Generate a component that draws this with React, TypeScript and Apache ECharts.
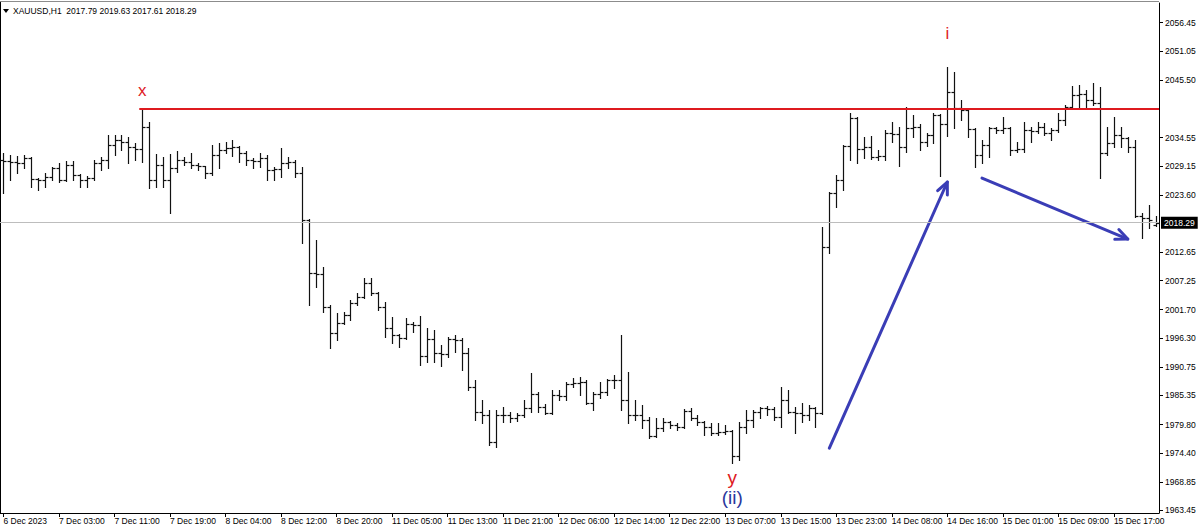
import React, { useEffect, useRef } from "react";
import * as echarts from "echarts";

const symbolName = "XAUUSD,H1";

const tickLabels = [
  "6 Dec 2023", "7 Dec 03:00", "7 Dec 11:00", "7 Dec 19:00", "8 Dec 04:00", "8 Dec 12:00",
  "8 Dec 20:00", "11 Dec 05:00", "11 Dec 13:00", "11 Dec 21:00", "12 Dec 06:00", "12 Dec 14:00",
  "12 Dec 22:00", "13 Dec 07:00", "13 Dec 15:00", "13 Dec 23:00", "14 Dec 08:00", "14 Dec 16:00",
  "15 Dec 01:00", "15 Dec 09:00", "15 Dec 17:00",
];
const barsPerTick = 8;

const priceTicks = [
  1963.45, 1968.85, 1974.4, 1979.8, 1985.35, 1990.75, 1996.3, 2001.7, 2007.25, 2012.65,
  2023.6, 2029.15, 2034.55, 2045.5, 2051.05, 2056.45,
];

const opens = [
  2030.25, 2030.06, 2029.87, 2029.68, 2030.63, 2026.63, 2026.44, 2027.01, 2028.73, 2026.44,
  2029.30, 2027.39, 2026.44, 2026.82, 2029.68, 2030.25, 2033.11, 2034.07, 2033.69, 2032.73,
  2032.35, 2036.55, 2026.44, 2029.30, 2026.44, 2028.73, 2030.25, 2029.87, 2029.30, 2029.11,
  2027.77, 2031.21, 2032.16, 2032.54, 2032.73, 2031.59, 2030.25, 2030.06, 2030.63, 2028.35,
  2028.54, 2029.68, 2029.87, 2027.77, 2018.80, 2008.69, 2008.50, 2002.20, 1997.24, 1999.15,
  2000.67, 2002.97, 2004.12, 2006.78, 2004.88, 2002.20, 1998.20, 1996.87, 1996.29, 1998.96,
  1998.77, 1992.86, 1996.10, 1993.43, 1993.24, 1996.10, 1995.91, 1993.43, 1986.94, 1982.17,
  1981.60, 1976.45, 1981.60, 1981.60, 1981.03, 1981.60, 1982.93, 1985.60, 1983.12, 1981.98,
  1985.41, 1985.22, 1987.51, 1987.70, 1987.89, 1983.89, 1985.60, 1985.99, 1988.28, 1988.28,
  1984.46, 1981.60, 1981.60, 1980.64, 1977.59, 1979.12, 1980.26, 1979.69, 1979.31, 1982.36,
  1981.03, 1980.26, 1979.31, 1978.17, 1978.36, 1978.55, 1973.79, 1979.31, 1980.64, 1982.17,
  1982.93, 1982.74, 1981.22, 1984.46, 1982.17, 1981.98, 1981.60, 1982.93, 1981.98, 2013.65,
  2023.90, 2026.44, 2032.92, 2038.27, 2032.35, 2032.73, 2030.82, 2031.02, 2035.40, 2035.21,
  2032.73, 2036.36, 2036.55, 2033.69, 2035.02, 2038.84, 2037.12, 2043.23, 2040.17, 2039.79,
  2036.17, 2031.21, 2033.11, 2036.36, 2035.98, 2036.36, 2032.16, 2032.35, 2035.98, 2035.79,
  2036.55, 2035.40, 2035.98, 2037.88, 2040.36, 2042.65, 2042.84, 2041.70, 2041.13, 2031.59,
  2033.50, 2035.02, 2034.45, 2032.73, 2019.56, 2019.18, 2017.79,
];
const highs = [
  2031.59, 2031.21, 2031.02, 2031.21, 2030.80, 2026.82, 2027.77, 2028.92, 2029.68, 2030.06,
  2030.06, 2027.50, 2027.20, 2030.25, 2030.82, 2035.02, 2035.02, 2035.02, 2034.64, 2033.50,
  2039.90, 2037.50, 2031.40, 2030.82, 2031.40, 2031.97, 2030.82, 2031.59, 2029.68, 2029.20,
  2033.11, 2033.50, 2033.69, 2034.07, 2032.92, 2031.97, 2030.63, 2031.59, 2031.21, 2028.92,
  2032.54, 2030.82, 2030.25, 2028.92, 2019.00, 2014.99, 2009.84, 2002.59, 2001.06, 2001.25,
  2003.54, 2004.88, 2007.74, 2007.74, 2005.07, 2003.16, 2000.29, 1997.06, 2000.10, 1999.34,
  2000.48, 1998.20, 1997.82, 1994.96, 1996.48, 1996.87, 1996.29, 1994.38, 1988.28, 1984.46,
  1982.55, 1982.55, 1983.12, 1982.17, 1981.98, 1984.46, 1989.61, 1985.99, 1983.70, 1986.37,
  1986.37, 1987.89, 1988.66, 1988.85, 1988.28, 1985.99, 1987.89, 1988.47, 1989.23, 1996.87,
  1989.80, 1984.46, 1983.51, 1981.22, 1981.03, 1981.03, 1980.40, 1980.07, 1982.74, 1982.93,
  1981.60, 1980.40, 1980.07, 1980.07, 1979.69, 1978.74, 1980.26, 1982.55, 1982.55, 1983.12,
  1983.31, 1983.12, 1986.94, 1986.37, 1983.12, 1983.89, 1983.51, 1983.10, 2017.47, 2024.15,
  2027.39, 2033.11, 2039.22, 2038.46, 2034.64, 2034.83, 2032.16, 2035.98, 2037.50, 2036.55,
  2040.36, 2038.84, 2037.12, 2035.40, 2039.22, 2039.03, 2048.00, 2047.04, 2041.70, 2039.98,
  2036.36, 2034.07, 2036.55, 2036.55, 2038.46, 2036.55, 2033.69, 2037.50, 2036.55, 2037.50,
  2037.31, 2036.36, 2039.22, 2040.75, 2044.37, 2044.56, 2043.61, 2044.94, 2044.18, 2036.55,
  2038.46, 2036.55, 2034.64, 2034.07, 2020.14, 2021.67, 2019.63,
];
const lows = [
  2023.96, 2026.44, 2027.77, 2028.73, 2025.10, 2024.53, 2025.10, 2026.44, 2026.05, 2026.25,
  2026.44, 2025.10, 2025.10, 2026.44, 2028.35, 2028.73, 2031.21, 2032.16, 2029.68, 2030.25,
  2029.87, 2024.91, 2025.10, 2025.10, 2020.14, 2027.96, 2029.30, 2028.73, 2028.35, 2026.82,
  2027.39, 2028.73, 2031.59, 2031.02, 2029.87, 2029.30, 2028.73, 2028.92, 2026.44, 2026.44,
  2027.01, 2028.73, 2027.01, 2014.42, 2002.59, 2006.02, 2001.25, 1994.38, 1995.91, 1998.96,
  1999.72, 2002.59, 2003.90, 2004.49, 2001.63, 1996.48, 1995.34, 1994.57, 1996.10, 1997.43,
  1991.14, 1991.72, 1991.72, 1990.95, 1992.66, 1993.62, 1990.18, 1986.37, 1980.64, 1980.07,
  1975.87, 1975.49, 1980.26, 1980.26, 1980.45, 1981.22, 1982.17, 1982.17, 1981.79, 1981.79,
  1984.46, 1984.46, 1986.94, 1985.41, 1983.70, 1982.55, 1984.84, 1985.41, 1986.75, 1982.55,
  1980.07, 1980.64, 1979.12, 1977.21, 1977.40, 1978.55, 1979.12, 1978.74, 1979.12, 1980.64,
  1979.69, 1977.78, 1977.78, 1977.78, 1977.97, 1972.45, 1973.03, 1978.17, 1979.31, 1981.03,
  1981.60, 1980.64, 1979.31, 1981.98, 1978.17, 1980.26, 1980.64, 1979.31, 1981.79, 2012.50,
  2021.28, 2024.53, 2030.25, 2029.68, 2030.63, 2030.44, 2030.25, 2030.25, 2033.69, 2029.11,
  2031.78, 2034.64, 2032.16, 2032.92, 2033.50, 2027.20, 2034.83, 2036.36, 2037.88, 2034.64,
  2028.92, 2029.68, 2030.82, 2035.40, 2035.40, 2031.21, 2031.78, 2031.78, 2033.69, 2035.40,
  2035.02, 2034.07, 2035.59, 2036.93, 2040.17, 2040.17, 2040.17, 2040.75, 2026.82, 2031.21,
  2032.73, 2032.73, 2031.78, 2019.37, 2015.37, 2017.28, 2017.61,
];
const closes = [
  2030.06, 2029.87, 2029.68, 2030.63, 2026.63, 2026.44, 2027.01, 2028.73, 2026.44, 2029.30,
  2027.39, 2026.44, 2026.82, 2029.68, 2030.25, 2033.11, 2034.07, 2033.69, 2032.73, 2032.35,
  2036.55, 2026.44, 2029.30, 2026.44, 2028.73, 2030.25, 2029.87, 2029.30, 2029.11, 2027.77,
  2031.21, 2032.16, 2032.54, 2032.73, 2031.59, 2030.25, 2030.06, 2030.63, 2028.35, 2028.54,
  2029.68, 2029.87, 2027.77, 2018.80, 2008.69, 2008.50, 2002.20, 1997.24, 1999.15, 2000.67,
  2002.97, 2004.12, 2006.78, 2004.88, 2002.20, 1998.20, 1996.87, 1996.29, 1998.96, 1998.77,
  1992.86, 1996.10, 1993.43, 1993.24, 1996.10, 1995.91, 1993.43, 1986.94, 1982.17, 1981.60,
  1976.45, 1981.60, 1981.60, 1981.03, 1981.60, 1982.93, 1985.60, 1983.12, 1981.98, 1985.41,
  1985.22, 1987.51, 1987.70, 1987.89, 1983.89, 1985.60, 1985.99, 1988.28, 1988.28, 1984.46,
  1981.60, 1981.60, 1980.64, 1977.59, 1979.12, 1980.26, 1979.69, 1979.31, 1982.36, 1981.03,
  1980.26, 1979.31, 1978.17, 1978.36, 1978.55, 1973.79, 1979.31, 1980.64, 1982.17, 1982.93,
  1982.74, 1981.22, 1984.46, 1982.17, 1981.98, 1981.60, 1982.93, 1981.98, 2013.65, 2023.90,
  2026.44, 2032.92, 2038.27, 2032.35, 2032.73, 2030.82, 2031.02, 2035.40, 2035.21, 2032.73,
  2036.36, 2036.55, 2033.69, 2035.02, 2038.84, 2037.12, 2043.23, 2040.17, 2039.79, 2036.17,
  2031.21, 2033.11, 2036.36, 2035.98, 2036.36, 2032.16, 2032.35, 2035.98, 2035.79, 2036.55,
  2035.40, 2035.98, 2037.88, 2040.36, 2042.65, 2042.84, 2041.70, 2041.13, 2031.59, 2033.50,
  2035.02, 2034.45, 2032.73, 2019.56, 2019.18, 2018.80, 2018.29,
];

const resistanceLevel = 2039.9;
const resistanceStartBar = 20;
const bidPrice = 2018.29;

// [fromBar, fromPrice, toBar, toPrice]
const arrowLines = [
  [119, 1975.3, 136, 2026.06],
  [141, 2026.82, 162, 2015.18],
];

const waveMarks = [
  { text: "x", bar: 20, price: 2039.9 },
  { text: "i", bar: 136, price: 2048.0 },
  { text: "y", bar: 105, price: 1972.45 },
  { text: "(ii)", bar: 105, price: 1972.45 },
];

const FONT = "Liberation Sans, Arial, sans-serif";
const RED = "#de1a1f";
const BLUE = "#3a3db6";

function buildOption(): any {
  const n = opens.length;
  const categories = opens.map((_, i) => String(i));
  const ohlc = opens.map((o, i) => [i, o, highs[i], lows[i], closes[i]]);
  const last = n - 1;
  const header = `${symbolName}  ${opens[last].toFixed(2)} ${highs[last].toFixed(2)} ${lows[last].toFixed(2)} ${closes[last].toFixed(2)}`;

  const markStyles: Record<string, any> = {
    x: { offset: [0, -19], color: RED, fontSize: 17 },
    i: { offset: [0, -34], color: RED, fontSize: 17 },
    y: { offset: [0, 14], color: RED, fontSize: 19 },
    "(ii)": { offset: [0, 34], color: "#2a379c", fontSize: 19 },
  };

  return {
    animation: false,
    backgroundColor: "#ffffff",
    grid: { left: -2, right: 41, top: 3, bottom: 18, containLabel: false },
    xAxis: {
      type: "category",
      data: categories,
      boundaryGap: true,
      axisLine: { show: true, lineStyle: { color: "#000", width: 1 } },
      axisTick: {
        show: true,
        alignWithLabel: true,
        interval: barsPerTick - 1,
        length: 4,
        lineStyle: { color: "#000" },
      },
      axisLabel: {
        interval: barsPerTick - 1,
        align: "left",
        margin: 3,
        fontSize: 8.5,
        fontFamily: FONT,
        color: "#000",
        formatter: (_v: string, idx: number) =>
          idx % barsPerTick === 0 ? tickLabels[idx / barsPerTick] ?? "" : "",
      },
      splitLine: { show: false },
    },
    yAxis: {
      type: "value",
      position: "right",
      min: 1962.92,
      max: 2060.21,
      scale: true,
      axisLine: { show: true, lineStyle: { color: "#000", width: 1 } },
      axisTick: {
        show: true,
        length: 4,
        customValues: priceTicks,
        lineStyle: { color: "#000" },
      },
      axisLabel: {
        customValues: priceTicks,
        margin: 6,
        fontSize: 8.5,
        fontFamily: FONT,
        color: "#000",
        formatter: (v: number) => v.toFixed(2),
      },
      splitLine: { show: false },
    },
    graphic: [
      { type: "line", shape: { x1: 0, y1: 1.5, x2: 1159, y2: 1.5 }, style: { stroke: "#8c8c8c", lineWidth: 1 } },
      { type: "line", shape: { x1: 0.5, y1: 2, x2: 0.5, y2: 513 }, style: { stroke: "#000", lineWidth: 1 } },
      {
        type: "polygon",
        shape: { points: [[3, 9], [9, 9], [6, 13]] },
        style: { fill: "#000" },
      },
      {
        type: "text",
        x: 13,
        y: 6,
        style: { text: header, fontSize: 8.5, fontFamily: FONT, fill: "#000" },
      },
    ],
    series: [
      {
        type: "custom",
        name: "XAUUSD",
        data: ohlc,
        encode: { x: 0, y: [1, 2, 3, 4] },
        z: 2,
        renderItem: (_params: any, api: any) => {
          const idx = api.value(0);
          const pO = api.coord([idx, api.value(1)]);
          const pH = api.coord([idx, api.value(2)]);
          const pL = api.coord([idx, api.value(3)]);
          const pC = api.coord([idx, api.value(4)]);
          const x = Math.round(pH[0]) + 0.5;
          const yo = Math.round(pO[1]) + 0.5;
          const yc = Math.round(pC[1]) + 0.5;
          const style = { stroke: "#111", lineWidth: 1.2 };
          return {
            type: "group",
            children: [
              { type: "line", shape: { x1: x, y1: Math.round(pH[1]), x2: x, y2: Math.round(pL[1]) + 1 }, style },
              { type: "line", shape: { x1: x - 3, y1: yo, x2: x, y2: yo }, style },
              { type: "line", shape: { x1: x, y1: yc, x2: x + 3, y2: yc }, style },
            ],
          };
        },
        markLine: {
          silent: true,
          symbol: ["none", "none"],
          animation: false,
          data: [
            {
              yAxis: bidPrice,
              lineStyle: { color: "#bdbdbd", width: 1, type: "solid" },
              label: {
                show: true,
                position: "end",
                distance: 2,
                formatter: bidPrice.toFixed(2),
                backgroundColor: "#000",
                color: "#fff",
                padding: [2, 3, 1, 3],
                fontSize: 8.5,
                fontFamily: FONT,
              },
            },
            {
              yAxis: resistanceLevel,
              lineStyle: { opacity: 0, width: 0 },
              label: {
                show: true,
                position: "end",
                distance: 2,
                formatter: resistanceLevel.toFixed(2),
                backgroundColor: RED,
                color: "#fff",
                padding: [2, 3, 1, 3],
                fontSize: 8.5,
                fontFamily: FONT,
              },
            },
          ],
        },
        markPoint: {
          silent: true,
          symbol: "circle",
          symbolSize: 1,
          itemStyle: { color: "rgba(0,0,0,0)" },
          data: waveMarks.map((m) => ({
            coord: [m.bar, m.price],
            label: {
              show: true,
              position: "inside",
              formatter: m.text,
              fontFamily: FONT,
              ...markStyles[m.text],
            },
          })),
        },
      },
      {
        type: "custom",
        name: "resistance",
        data: [[resistanceStartBar, resistanceLevel]],
        encode: { x: 0, y: 1 },
        z: 3,
        renderItem: (params: any, api: any) => {
          const p = api.coord([api.value(0), api.value(1)]);
          const y = Math.round(p[1]);
          return {
            type: "line",
            shape: { x1: p[0] - 3, y1: y, x2: params.coordSys.x + params.coordSys.width, y2: y },
            style: { stroke: RED, lineWidth: 2 },
          };
        },
      },
      {
        type: "custom",
        name: "arrows",
        data: arrowLines,
        encode: { x: [0, 2], y: [1, 3] },
        z: 4,
        renderItem: (_params: any, api: any) => {
          const p1 = api.coord([api.value(0), api.value(1)]);
          const p2 = api.coord([api.value(2), api.value(3)]);
          const ang = Math.atan2(p2[1] - p1[1], p2[0] - p1[0]);
          const L = 13;
          const s = 0.42;
          const a1 = [p2[0] - L * Math.cos(ang - s), p2[1] - L * Math.sin(ang - s)];
          const a2 = [p2[0] - L * Math.cos(ang + s), p2[1] - L * Math.sin(ang + s)];
          const style = { stroke: BLUE, lineWidth: 3, fill: "none", lineCap: "round", lineJoin: "round" };
          return {
            type: "group",
            children: [
              { type: "line", shape: { x1: p1[0], y1: p1[1], x2: p2[0], y2: p2[1] }, style },
              { type: "polyline", shape: { points: [a1, p2, a2] }, style },
            ],
          };
        },
      },
    ],
  };
}

export default function App() {
  const ref = useRef<HTMLDivElement>(null);
  useEffect(() => {
    document.body.style.margin = "0";
    if (!ref.current) return;
    const chart = echarts.init(ref.current, null, { renderer: "svg" });
    chart.setOption(buildOption());
    return () => chart.dispose();
  }, []);
  return <div ref={ref} style={{ width: 1200, height: 531, background: "#fff" }} />;
}
